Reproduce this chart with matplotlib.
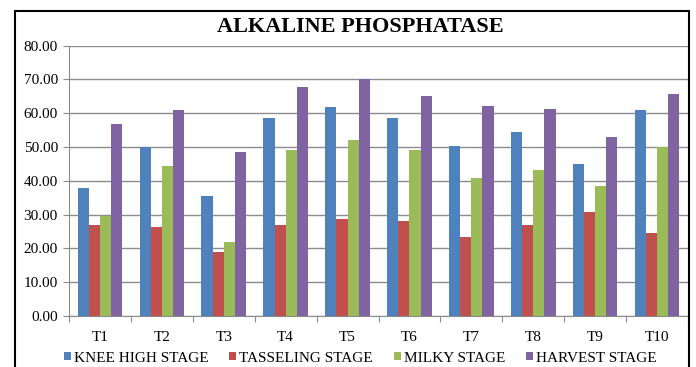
import matplotlib.pyplot as plt
import numpy as np
from matplotlib.patches import Patch, Rectangle
from matplotlib.ticker import FormatStrFormatter, FixedLocator

CATEGORIES = ["T1", "T2", "T3", "T4", "T5", "T6", "T7", "T8", "T9", "T10"]
KNEE_HIGH = [38.0, 50.1, 35.5, 58.5, 61.8, 58.5, 50.3, 54.5, 44.9, 60.9]
TASSELING = [26.9, 26.4, 18.8, 26.9, 28.6, 28.2, 23.5, 26.9, 30.8, 24.5]
MILKY = [29.5, 44.4, 21.8, 49.1, 52.1, 49.1, 40.9, 43.1, 38.5, 50.1]
HARVEST = [56.7, 60.9, 48.6, 67.8, 70.0, 65.2, 62.2, 61.4, 52.9, 65.6]
SERIES_NAMES = ["KNEE HIGH STAGE", "TASSELING STAGE", "MILKY STAGE", "HARVEST STAGE"]
COLORS = ["#4F81BD", "#C0504D", "#9BBB59", "#8064A2"]

plt.rcParams["font.family"] = ["Liberation Serif", "DejaVu Serif"]

W, H = 696, 367
fig = plt.figure(figsize=(W / 100, H / 100), dpi=100)
ax = fig.add_axes([69 / W, 1 - 316 / H, (688 - 69) / W, (316 - 45.7) / H])

x = np.arange(len(CATEGORIES))
width = 0.18
series = [KNEE_HIGH, TASSELING, MILKY, HARVEST]
for i, (values, color) in enumerate(zip(series, COLORS)):
    ax.bar(x + (i - 1.5) * width, values, width, color=color, zorder=3)

ax.set_xlim(-0.5, len(CATEGORIES) - 0.5)
ax.set_ylim(0, 80)
ax.yaxis.set_major_locator(FixedLocator(np.arange(0, 81, 10)))
ax.yaxis.set_major_formatter(FormatStrFormatter("%.2f"))
ax.grid(axis="y", color="#8c8c8c", linewidth=1.0, zorder=0)

ax.set_xticks(np.arange(-0.5, len(CATEGORIES), 1.0))
ax.set_xticklabels([])
ax.set_xticks(x, minor=True)
ax.set_xticklabels(CATEGORIES, minor=True)
ax.tick_params(axis="x", which="minor", length=0, pad=11, labelsize=11)
ax.tick_params(axis="x", which="major", length=4, color="#8c8c8c")
ax.tick_params(axis="y", length=4, color="#8c8c8c", labelsize=11, pad=4)

for side in ("top", "right"):
    ax.spines[side].set_visible(False)
for side in ("left", "bottom"):
    ax.spines[side].set_color("#8c8c8c")

fig.text(360 / W, 1 - 27 / H, "ALKALINE PHOSPHATASE", ha="center", va="center",
         fontsize=16, fontweight="bold")

# legend entries placed one by one, like the original
legend_x = [64, 229, 394, 526]
for name, color, lx in zip(SERIES_NAMES, COLORS, legend_x):
    fig.legend(handles=[Patch(facecolor=color, label=name)], loc="center left",
               bbox_to_anchor=(lx / W, 1 - 358 / H), frameon=False, fontsize=11,
               handlelength=0.45, handleheight=0.45, handletextpad=0.2,
               borderpad=0, borderaxespad=0)

fig.add_artist(Rectangle((15 / W, -0.1), (689 - 15) / W, 1.1 - 11 / H,
                         transform=fig.transFigure, fill=False,
                         edgecolor="black", linewidth=1.5, clip_on=False))

fig.savefig("out.png", dpi=100)
